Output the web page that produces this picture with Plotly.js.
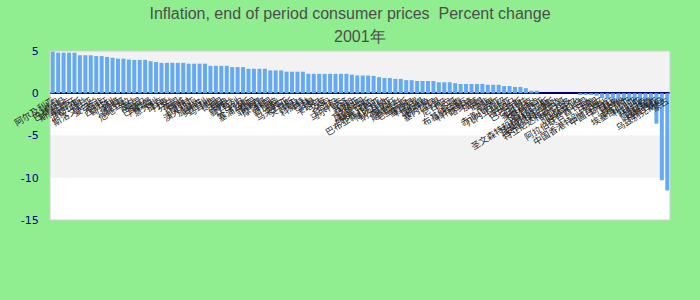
<!DOCTYPE html>
<html>
<head>
<meta charset="utf-8">
<script src="https://cdn.plot.ly/plotly-3.0.1.min.js"></script>
<style>
  html, body { margin: 0; padding: 0; background: #90EE90; }
  #chart { width: 700px; height: 300px; outline: 1px solid #22e622; outline-offset: -1px; }
</style>
</head>
<body>
<div id="chart"></div>
<script>
// Categories (country names, Chinese)
const countries = [
  "阿尔及利亚","冰岛","巴基斯坦","斯里兰卡","葡萄牙","洪都拉斯","荷兰","斯洛文尼亚","爱尔兰","南非",
  "西班牙","匈牙利","希腊","墨西哥","危地马拉","波兰","英国","巴拿马","卢森堡","意大利",
  "捷克","丹麦","芬兰","美国","挪威","比利时","澳大利亚","加拿大","奥地利","马耳他",
  "德国","法国","瑞典","新西兰","以色列","约旦","塞浦路斯","泰国","菲律宾","摩洛哥",
  "韩国","新加坡","瑞士","马来西亚","突尼斯","埃及","科威特","巴林","阿曼","卡塔尔",
  "文莱","不丹","尼泊尔","马尔代夫","斐济","汤加","萨摩亚","瓦努阿图","基里巴斯","所罗门群岛",
  "巴布亚新几内亚","博茨瓦纳","纳米比亚","莱索托","斯威士兰","毛里求斯","塞舌尔","科摩罗","吉布提","佛得角",
  "塞内加尔","马里","尼日尔","贝宁","多哥","布基纳法索","科特迪瓦","喀麦隆","加蓬","乍得",
  "中非","刚果","赤道几内亚","几内亚比绍","冈比亚","巴哈马","巴巴多斯","伯利兹","多米尼克","格林纳达",
  "圣卢西亚","圣文森特和格林纳丁斯","圣基茨和尼维斯","安提瓜和巴布达","特立尼达和多巴哥","萨尔瓦多","厄瓜多尔","沙特阿拉伯","阿拉伯联合酋长国","日本",
  "中国","中国香港特别行政区","中国台湾省","阿根廷","秘鲁","黎巴嫩","埃塞俄比亚","利比亚","叙利亚","伊拉克",
  "阿塞拜疆","格鲁吉亚","乌兹别克斯坦","蒙古"
];

// Inflation, end of period, percent change (2001)
const inflation = [
  4.95, 4.8, 4.8, 4.8, 4.8, 4.5, 4.5, 4.5, 4.4, 4.4,
  4.3, 4.2, 4.1, 4.1, 4.0, 3.95, 3.95, 3.95, 3.8, 3.7,
  3.6, 3.6, 3.6, 3.6, 3.6, 3.5, 3.5, 3.5, 3.5, 3.25,
  3.25, 3.25, 3.25, 3.1, 3.1, 3.1, 2.9, 2.9, 2.9, 2.9,
  2.7, 2.7, 2.7, 2.55, 2.55, 2.55, 2.55, 2.3, 2.3, 2.3,
  2.3, 2.3, 2.3, 2.3, 2.3, 2.2, 2.1, 2.1, 2.1, 2.05,
  1.9, 1.8, 1.8, 1.7, 1.7, 1.55, 1.55, 1.45, 1.45, 1.45,
  1.45, 1.3, 1.3, 1.3, 1.2, 1.1, 1.1, 1.1, 1.1, 1.1,
  1.0, 1.0, 1.0, 0.85, 0.85, 0.75, 0.75, 0.6, 0.3, 0.3,
  0, 0, 0, 0, 0, 0, 0, -0.2, -0.2, -0.2,
  -0.3, -0.55, -0.65, -0.65, -0.65, -0.8, -0.9, -1.25, -1.6, -1.75,
  -1.85, -3.6, -10.3, -11.5
];

const yTicks = [-15, -10, -5, 0, 5];
const titleLine1 = "Inflation, end of period consumer prices  Percent change";
const titleLine2 = "2001年";
const titleFont = { family: "Liberation Sans, Arial, sans-serif", size: 16, color: "#4d4d4d" };

const trace = {
  type: "bar",
  x: countries,
  y: inflation,
  marker: { color: "#64aaf2" },
  hoverinfo: "none"
};

const layout = {
  width: 700,
  height: 300,
  paper_bgcolor: "#90EE90",
  plot_bgcolor: "#ffffff",
  margin: { l: 50, r: 30, t: 51, b: 80, pad: 0 },
  title: {
    text: titleLine1,
    font: titleFont,
    x: 0.5, xanchor: "center",
    yref: "container", y: 0.957, yanchor: "middle"
  },
  annotations: [
    { text: titleLine2, font: titleFont, showarrow: false,
      xref: "paper", x: 0.5, xanchor: "center",
      yref: "paper", y: 1.083, yanchor: "middle" }
  ],
  bargap: 0.27,
  showlegend: false,
  xaxis: {
    type: "category",
    anchor: "free",
    position: 0.75,
    tickmode: "linear", tick0: 0, dtick: 1,
    tickangle: -32,
    ticks: "",
    showline: false,
    showgrid: false,
    zeroline: false,
    automargin: false,
    tickfont: { family: "Noto Sans CJK SC", size: 9, color: "#222222" },
    range: [-0.5, countries.length - 0.5]
  },
  yaxis: {
    range: [-15, 5],
    tickmode: "array",
    tickvals: yTicks,
    ticktext: yTicks.map(String),
    ticks: "outside",
    ticklen: 8,
    tickcolor: "rgba(0,0,0,0)",
    showgrid: false,
    showline: false,
    zeroline: true,
    zerolinecolor: "#00007a",
    zerolinewidth: 2,
    automargin: false,
    tickfont: { family: "DejaVu Sans", size: 11, color: "#00008b" }
  },
  shapes: [
    { type: "rect", layer: "below", xref: "paper", x0: 0, x1: 1, yref: "y", y0: 0, y1: 5,
      fillcolor: "#f2f2f2", line: { width: 0 } },
    { type: "rect", layer: "below", xref: "paper", x0: 0, x1: 1, yref: "y", y0: -10, y1: -5,
      fillcolor: "#f2f2f2", line: { width: 0 } },
    { type: "rect", layer: "above", xref: "paper", x0: 0, x1: 1, yref: "paper", y0: 0, y1: 1,
      fillcolor: "rgba(0,0,0,0)", line: { color: "#d0d0d0", width: 1 } }
  ]
};

Plotly.newPlot("chart", [trace], layout, { displayModeBar: false, staticPlot: true });
</script>
</body>
</html>
